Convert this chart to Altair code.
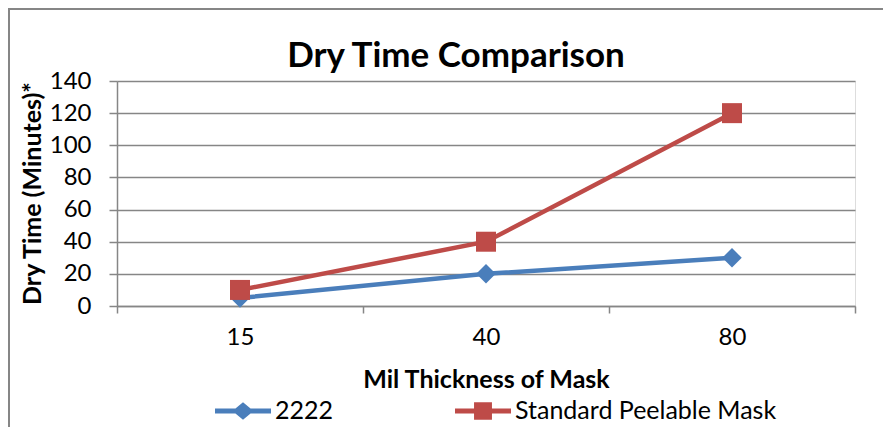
import altair as alt
import pandas as pd

thickness = ["15", "40", "80"]
series_names = ["2222", "Standard Peelable Mask"]
values_2222 = [5, 20, 30]
values_std = [10, 40, 120]
y_ticks = [0, 20, 40, 60, 80, 100, 120, 140]

rows = []
for t, v in zip(thickness, values_2222):
    rows.append({"thickness": t, "series": series_names[0], "value": v})
for t, v in zip(thickness, values_std):
    rows.append({"thickness": t, "series": series_names[1], "value": v})
df = pd.DataFrame(rows)

FONT = "Lato"
BLUE = "#4A7EBB"
RED = "#BE4B48"
GRID = "#868686"

color_scale = alt.Scale(domain=series_names, range=[BLUE, RED])
legend_paths = [
    "M-1,-0.09L-0.27,-0.09L0,-0.31L0.27,-0.09L1,-0.09L1,0.09L0.27,0.09L0,0.31L-0.27,0.09L-1,0.09Z",
    "M-1,-0.09L-0.32,-0.09L-0.32,-0.31L0.32,-0.31L0.32,-0.09L1,-0.09L1,0.09L0.32,0.09L0.32,0.31L-0.32,0.31L-0.32,0.09L-1,0.09Z",
]

x_enc = alt.X(
    "thickness:O",
    sort=thickness,
    scale=alt.Scale(type="band", paddingInner=0, paddingOuter=0),
    axis=alt.Axis(
        title="Mil Thickness of Mask",
        tickBand="extent",
        labelAngle=0,
        grid=False,
        domainColor=GRID,
        domainWidth=1.5,
        tickColor=GRID,
        tickWidth=1.5,
        tickSize=7,
        labelFont=FONT,
        labelFontSize=24,
        labelColor="black",
        labelPadding=12,
        titleFont=FONT,
        titleFontSize=25,
        titleFontWeight="bold",
        titleColor="black",
        titleX=369,
        titleY=81,
        titleBaseline="alphabetic",
    ),
)
y_enc = alt.Y(
    "value:Q",
    scale=alt.Scale(domain=[0, 140], nice=False),
    axis=alt.Axis(
        title="Dry Time (Minutes)*",
        values=y_ticks,
        grid=True,
        gridColor=GRID,
        gridWidth=1.5,
        domainColor=GRID,
        domainWidth=1.5,
        tickColor=GRID,
        tickWidth=1.5,
        tickSize=8,
        labelFont=FONT,
        labelFontSize=24,
        labelColor="black",
        labelPadding=18,
        titleFont=FONT,
        titleFontSize=25,
        titleFontWeight="bold",
        titleColor="black",
        titleAngle=270,
        titleX=-85,
        titleY=112,
        titleAlign="center",
        titleBaseline="middle",
    ),
)

legend_def = alt.Legend(
    title=None,
    orient="none",
    direction="horizontal",
    legendX=98,
    legendY=302,
    symbolSize=3136,
    symbolOpacity=1,
    symbolStrokeWidth=0,
    labelFont=FONT,
    labelFontSize=25,
    labelColor="black",
    labelOffset=4,
    columnPadding=121,
    labelLimit=400,
)

base = alt.Chart(df)

lines = base.mark_line(strokeWidth=4.5).encode(
    x=x_enc,
    y=y_enc,
    color=alt.Color("series:N", scale=color_scale, legend=legend_def),
)

points = base.mark_point(filled=True, opacity=1).encode(
    x=x_enc,
    y=y_enc,
    color=alt.Color("series:N", scale=color_scale, legend=legend_def),
    shape=alt.condition(
        "datum.series == '2222'", alt.value("diamond"), alt.value("square")
    ),
    size=alt.condition("datum.series == '2222'", alt.value(380), alt.value(400)),
)

legend_layer = base.mark_point(filled=True, opacity=0.001).encode(
    x=x_enc,
    y=y_enc,
    color=alt.Color("series:N", scale=color_scale, legend=legend_def),
    shape=alt.Shape(
        "series:N",
        scale=alt.Scale(domain=series_names, range=legend_paths),
        legend=legend_def,
    ),
)

border = alt.Chart(pd.DataFrame({"b": [0]})).mark_rect(
    fill=None, stroke=GRID, strokeWidth=2
).encode(
    x=alt.value(-108), x2=alt.value(790), y=alt.value(-72), y2=alt.value(370)
)

chart = (
    alt.layer(border, lines, points, legend_layer)
    .properties(
        width=738,
        height=225,
        padding={"left": 109, "top": 73, "right": 28, "bottom": 121},
        autosize=alt.AutoSizeParams(type="none"),
        title=alt.TitleParams(
            text="Dry Time Comparison",
            font=FONT,
            fontSize=35,
            fontWeight="bold",
            color="black",
            anchor="middle",
            frame="group",
            dx=-30,
            offset=-94,
            baseline="alphabetic",
        ),
    )
    .configure_view(stroke=None)
    .configure(background="white")
)

chart.save("out.html", embed_options={"renderer": "svg", "actions": False})
